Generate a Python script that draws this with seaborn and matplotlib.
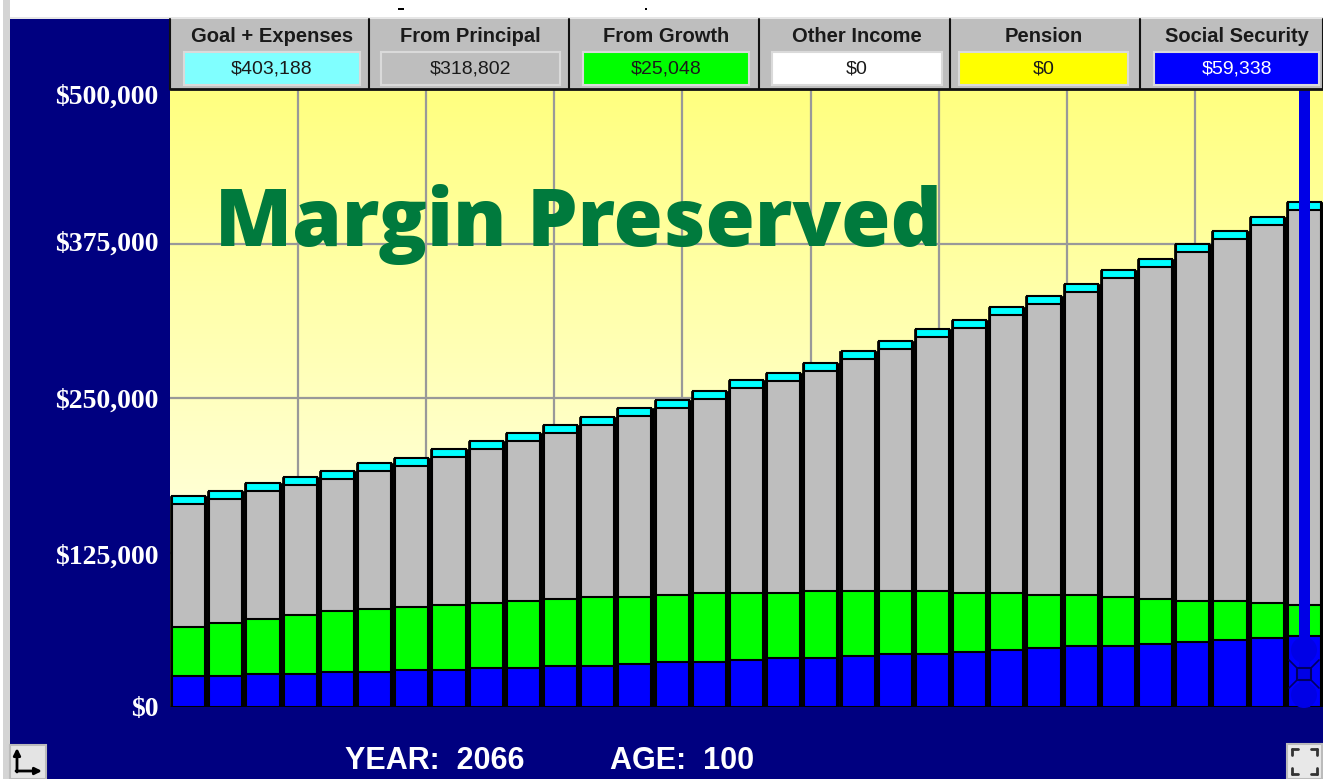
"""
Retirement income chart: Margin Preserved
"""

# Import libraries

import numpy as np
import seaborn as sns
import matplotlib.pyplot as plt
from matplotlib.patches import Rectangle, Circle
from matplotlib.transforms import ScaledTranslation

# Chart values

years = list(range(2036, 2067))

social_security = [25100, 25100, 26700, 26700, 28300, 28300, 29900, 29900, 31600, 31600, 33200,
                   33200, 34800, 36400, 36400, 38000, 39600, 39600, 41300, 42900, 42900, 44500,
                   46100, 47700, 49300, 49300, 51000, 52600, 54200, 55800, 57400]
from_growth = [39600, 42900, 44500, 47700, 49300, 51000, 51000, 52600, 52600, 54200, 54200,
               55800, 54200, 54200, 55800, 54200, 52600, 54200, 52600, 51000, 51000, 47700,
               46100, 42900, 41300, 39600, 36400, 33200, 31600, 28300, 25100]
from_principal = [99500, 100300, 103600, 105200, 106800, 111600, 114100, 119700, 124600, 129400,
                  134300, 139100, 146400, 151300, 156900, 165800, 171500, 178000, 187700, 195800,
                  205500, 214400, 224900, 235400, 245100, 258100, 268600, 282300, 292900, 305800,
                  319600]
expenses = [6500] * 31

y_ticks = [0, 125000, 250000, 375000, 500000]
y_labels = ['$0', '$125,000', '$250,000', '$375,000', '$500,000']

header_names = ['Goal + Expenses', 'From Principal', 'From Growth', 'Other Income', 'Pension', 'Social Security']
header_values = ['$403,188', '$318,802', '$25,048', '$0', '$0', '$59,338']
header_colors = ['#80FFFF', '#BEBEBE', '#00FF00', '#FFFFFF', '#FFFF00', '#0000FF']
header_text = ['#1A1A1A', '#1A1A1A', '#1A1A1A', '#1A1A1A', '#1A1A1A', '#FFFFFF']
header_edges = [170, 369, 569, 759, 950, 1140, 1323]
box_edges = [(184, 360), (381, 560), (583, 749), (772, 942), (959, 1128), (1154, 1319)]

NAVY = '#000080'
W, H = 1323, 779

sns.set_style('white')
fig = plt.figure(figsize = (W / 100, H / 100), dpi = 100, facecolor = NAVY)

# Main plot area

ax = fig.add_axes([170 / W, 1 - 707 / H, 1153 / W, 618 / H])

# Stack from the top layer down, the black layer gives the thick gaps between bars

blue_top = np.array(social_security)
green_top = blue_top + np.array(from_growth)
grey_top = green_top + np.array(from_principal)
cyan_top = grey_top + np.array(expenses)

sns.barplot(x = years, y = cyan_top, color = 'black', saturation = 1, width = 1.0,
            edgecolor = 'black', linewidth = 0.5, ax = ax)
for top, col in [(cyan_top, '#00FFFF'), (grey_top, '#BEBEBE'), (green_top, '#00FF00'), (blue_top, '#0000FF')]:
    sns.barplot(x = years, y = top, color = col, saturation = 1, width = 0.89,
                edgecolor = 'black', linewidth = 1.5, ax = ax)

gradient = np.linspace(0, 1, 256)
cols = np.ones((256, 1, 3))
cols[:, 0, 2] = 0.5 + 0.5 * gradient
ax.imshow(cols, extent = (-0.5, 30.5, 0, 500000), aspect = 'auto', origin = 'upper', zorder = 0)

ax.set_xlim(-0.5, 30.5)
ax.set_ylim(0, 500000)
ax.set_xticks(np.linspace(-0.5, 30.5, 10)[1:-1])
ax.set_yticks(y_ticks, labels = y_labels)
ax.tick_params(axis = 'x', labelbottom = False, length = 0)
ax.tick_params(axis = 'y', length = 0, pad = 8.5, labelsize = 20, labelcolor = 'white')
label_shift = [0, 2, 0, -2, 5] # Pixels down, the labels sit a little off their grid lines
for lab, shift in zip(ax.get_yticklabels(), label_shift):
    lab.set_family('Liberation Serif')
    lab.set_fontweight('bold')
    lab.set_transform(lab.get_transform() + ScaledTranslation(0, -shift / 100, fig.dpi_scale_trans))
ax.grid(True, color = '#999999', linewidth = 1.6)
ax.set_axisbelow(True)
ax.set_xlabel('')
ax.set_ylabel('')
sns.despine(ax = ax, left = True, bottom = True)

# Overlay in pixel positions: header, slider, buttons, title

ov = fig.add_axes([0, 0, 1, 1], zorder = 5)
ov.set_xlim(0, W)
ov.set_ylim(H, 0)
ov.axis('off')

ov.add_patch(Rectangle((0, 0), W, 17, fc = 'white', ec = 'none'))
ov.add_patch(Rectangle((0, 0), 3, H, fc = 'white', ec = 'none'))
ov.add_patch(Rectangle((3, 0), 7, H, fc = '#D4D4D4', ec = 'none'))
ov.add_patch(Rectangle((10, 17), W, 2, fc = '#E6E6E6', ec = 'none'))
ov.add_patch(Rectangle((398, 8), 6, 2, fc = 'black', ec = 'none'))
ov.add_patch(Rectangle((645, 8), 2, 2, fc = 'black', ec = 'none'))

ov.add_patch(Rectangle((170, 19), W - 170, 70, fc = '#BEBEBE', ec = 'none'))
for i, name in enumerate(header_names):
    left, right = box_edges[i]
    centre = (left + right) / 2
    ov.add_patch(Rectangle((left, 52), right - left, 33, fc = header_colors[i], ec = '#DADADA', lw = 1.5))
    ov.text(centre, 36, name, ha = 'center', va = 'center', fontsize = 14.5, color = '#1A1A1A',
            family = 'Liberation Sans', fontweight = 'bold')
    ov.text(centre, 69, header_values[i], ha = 'center', va = 'center', fontsize = 14,
            color = header_text[i], family = 'Liberation Sans')
for x in header_edges:
    ov.plot([x, x], [19, 89], color = '#111111', lw = 1.5)
ov.plot([170, W], [89, 89], color = '#111111', lw = 2)

ov.text(578.5, 224, 'Margin Preserved', ha = 'center', va = 'center', fontsize = 57.5, color = '#007A3D',
        family = 'Open Sans', fontweight = 800)

# Slider on the last bar

ov.add_patch(Rectangle((1299, 90), 11, 617, fc = '#0000E6', ec = 'none'))
for cy in [650, 695]:
    ov.add_patch(Circle((1304, cy), 13, fc = '#0000E6', ec = 'none'))
ov.add_patch(Rectangle((1297, 668), 14, 12, fc = '#0000E6', ec = '#000060', lw = 1.5))
for x0, x1, y0, y1 in [(1289, 1297, 660, 668), (1319, 1311, 660, 668), (1289, 1297, 688, 680), (1319, 1311, 688, 680)]:
    ov.plot([x0, x1], [y0, y1], color = '#000060', lw = 1.2)

# Bottom captions and buttons

ov.text(435, 761, 'YEAR:  2066', ha = 'center', va = 'center', fontsize = 22, color = 'white',
        family = 'Liberation Sans', fontweight = 'bold')
ov.text(682, 761, 'AGE:  100', ha = 'center', va = 'center', fontsize = 22, color = 'white',
        family = 'Liberation Sans', fontweight = 'bold')

ov.add_patch(Rectangle((10, 745), 36, 34, fc = '#E4E4E4', ec = '#BBBBBB', lw = 1.5))
arrow = dict(arrowstyle = '-|>', color = 'black', lw = 2, shrinkA = 0, shrinkB = 0)
ov.annotate('', xy = (17, 748), xytext = (17, 772), arrowprops = arrow)
ov.annotate('', xy = (42, 771), xytext = (16, 771), arrowprops = arrow)

ov.add_patch(Rectangle((1287, 744), 35, 35, fc = '#E8E8E8', ec = '#BBBBBB', lw = 1.5))
for cx, cy, dx, dy in [(1292, 749, 1, 1), (1317, 749, -1, 1), (1292, 774, 1, -1), (1317, 774, -1, -1)]:
    ov.plot([cx, cx + 6 * dx], [cy, cy], color = '#333333', lw = 2)
    ov.plot([cx, cx], [cy, cy + 6 * dy], color = '#333333', lw = 2)

plt.savefig('out.png', dpi = 100, facecolor = NAVY)
